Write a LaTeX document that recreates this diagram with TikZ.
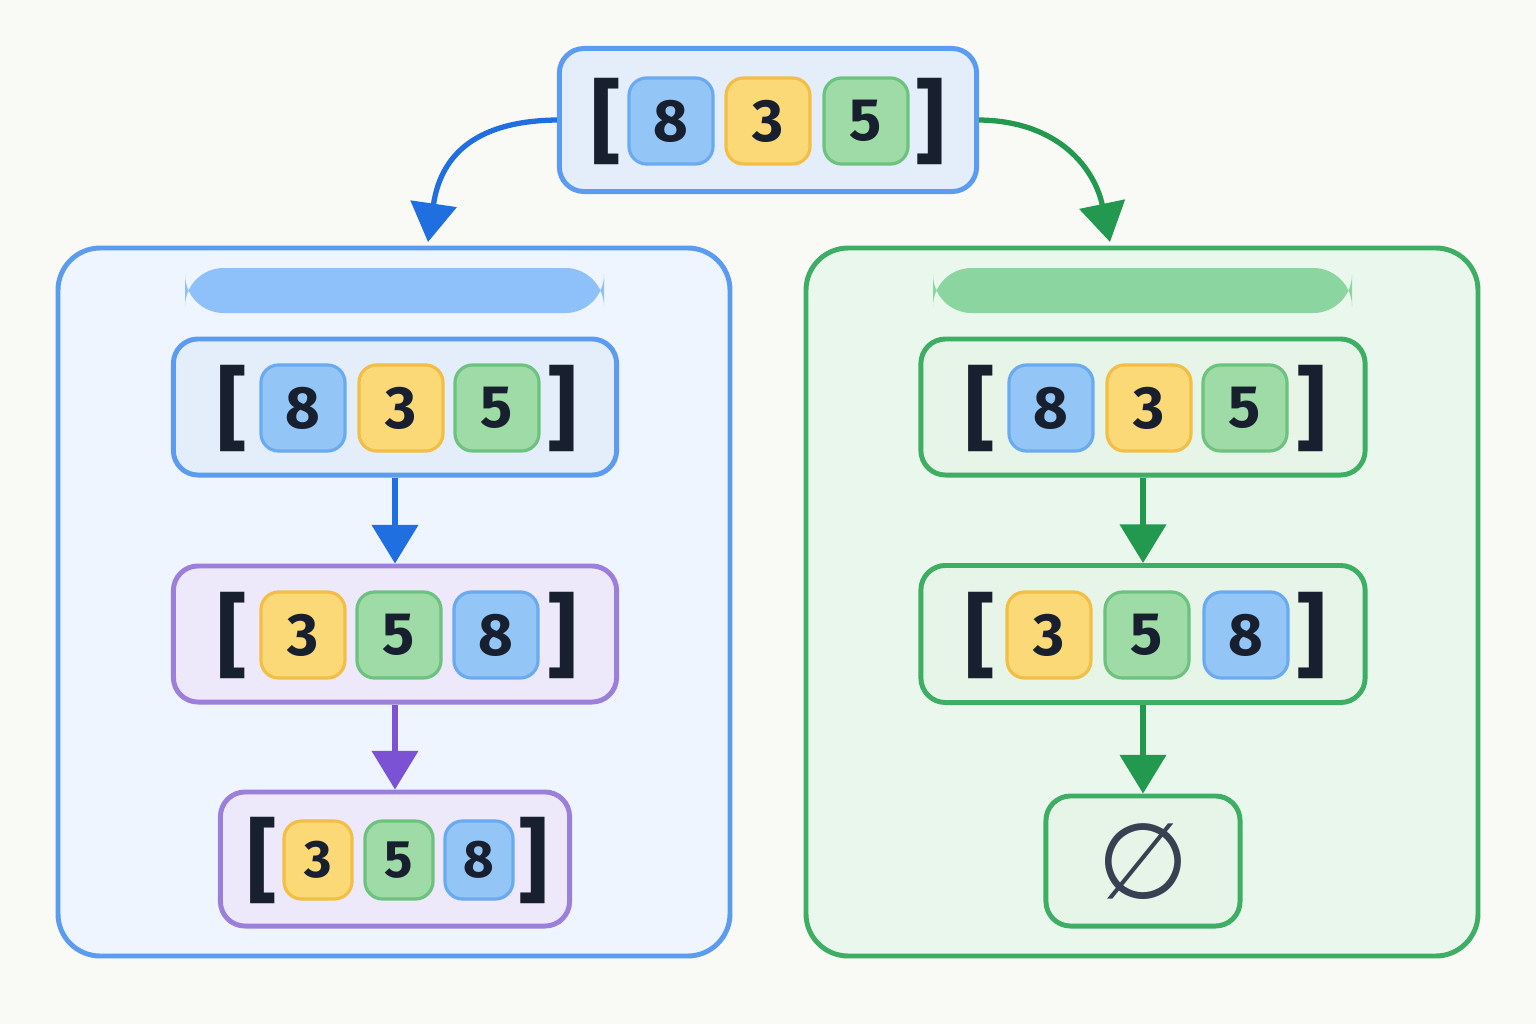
\documentclass[tikz,border=0pt]{standalone}
\usepackage{fontspec}
\setmainfont{Fira Sans}
\newfontfamily\symfont{DejaVu Sans}
\usetikzlibrary{arrows.meta}
\definecolor{bgcol}{HTML}{F9F9F6}
\definecolor{blueline}{HTML}{5B9CF0}
\definecolor{bluearrow}{HTML}{1F6FE0}
\definecolor{greenline}{HTML}{3DAE64}
\definecolor{greenarrow}{HTML}{22994F}
\definecolor{purpleline}{HTML}{9B7FDB}
\definecolor{purplearrow}{HTML}{7B52D3}
\definecolor{ink}{HTML}{18202F}
\definecolor{bluepanel}{HTML}{EEF5FE}
\definecolor{greenpanel}{HTML}{EAF7EC}
\definecolor{bluebar}{HTML}{8EC0FA}
\definecolor{greenbar}{HTML}{8BD5A0}
\definecolor{bluerow}{HTML}{E4EEFB}
\definecolor{greenrow}{HTML}{E6F5E8}
\definecolor{purplerow}{HTML}{EDE8FA}
\definecolor{tbfill}{HTML}{93C5F7}
\definecolor{tbline}{HTML}{6AAAF0}
\definecolor{tyfill}{HTML}{FCD977}
\definecolor{tyline}{HTML}{F2BE45}
\definecolor{tgfill}{HTML}{9EDBA6}
\definecolor{tgline}{HTML}{6CC27E}
\definecolor{emptyink}{HTML}{374151}
\tikzset{
  panel/.style={draw=#1, line width=1.4pt, rounded corners=12pt},
  rowbox/.style={draw=#1, line width=1.4pt, rounded corners=7pt},
  bar/.style={fill=#1, rounded corners=11pt},
  tile/.style={rounded corners=5pt, line width=0.9pt, minimum width=0.84cm,
    minimum height=0.86cm, font=\fontsize{17}{20}\selectfont\bfseries, text=ink},
  smalltile/.style={tile, minimum width=0.68cm, minimum height=0.78cm,
    font=\fontsize{15}{18}\selectfont\bfseries},
  tb/.style={fill=tbfill, draw=tbline},
  ty/.style={fill=tyfill, draw=tyline},
  tg/.style={fill=tgfill, draw=tgline},
  brk/.style={font=\fontsize{26}{30}\selectfont\bfseries, text=ink},
  arr/.style={draw=#1, line width=1.5pt, -{Triangle[length=11pt,width=13pt]}, color=#1}
}
\begin{document}
\begin{tikzpicture}[x=0.01cm, y=-0.01cm]
\fill[bgcol] (0,0) rectangle (1536,1024);
% Panneaux
\filldraw[panel=blueline, fill=bluepanel] (58,248) rectangle (730,956);
\filldraw[panel=greenline, fill=greenpanel] (806,248) rectangle (1478,956);
\fill[bar=bluebar] (185,268) rectangle (604,313);
\fill[bar=greenbar] (933,268) rectangle (1352,313);
% Tableau du haut
\node[rowbox=blueline, fill=bluerow, minimum width=4.17cm, minimum height=1.43cm] (top) at (768,120) {};
\foreach \n/\x/\s in {8/671/tb,3/768/ty,5/866/tg}
  \node[tile,\s] (top\n) at (\x,121) {\n};
\node[brk] (topl) at (606,121) {[};
\node[brk] (topr) at (930,121) {]};
% Deux branches
\coordinate (lend) at (428,242);
\coordinate (rend) at (1110,242);
\draw[arr=bluearrow] (top.west) .. controls (470,121) and (440,160) .. (lend);
\draw[arr=greenarrow] (top.east) .. controls (1060,121) and (1095,170) .. (rend);
% Gauche
\node[rowbox=blueline, fill=bluerow, minimum width=4.43cm, minimum height=1.36cm] (la) at (395,407) {};
\foreach \n/\x/\s in {8/303/tb,3/401/ty,5/497/tg}
  \node[tile,\s] (la\n) at (\x,408) {\n};
\node[brk] at (232,408) {[};
\node[brk] at (562,408) {]};
\node[rowbox=purpleline, fill=purplerow, minimum width=4.43cm, minimum height=1.36cm] (lb) at (395,634) {};
\foreach \n/\x/\s in {3/303/ty,5/399/tg,8/496/tb}
  \node[tile,\s] (lb\n) at (\x,635) {\n};
\node[brk] at (232,635) {[};
\node[brk] at (562,635) {]};
\node[rowbox=purpleline, fill=purplerow, minimum width=3.49cm, minimum height=1.34cm] (lc) at (395,859) {};
\foreach \n/\x/\s in {3/318/ty,5/399/tg,8/479/tb}
  \node[smalltile,\s] (lc\n) at (\x,860) {\n};
\node[brk] at (262,860) {[};
\node[brk] at (533,860) {]};
\draw[arr=bluearrow] (la.south) -- (lb.north);
\draw[arr=purplearrow] (lb.south) -- (lc.north);
% Droite
\node[rowbox=greenline, fill=greenrow, minimum width=4.44cm, minimum height=1.36cm] (ra) at (1143,407) {};
\foreach \n/\x/\s in {8/1051/tb,3/1149/ty,5/1245/tg}
  \node[tile,\s] (ra\n) at (\x,408) {\n};
\node[brk] at (980,408) {[};
\node[brk] at (1311,408) {]};
\node[rowbox=greenline, fill=greenrow, minimum width=4.44cm, minimum height=1.37cm] (rb) at (1143,634) {};
\foreach \n/\x/\s in {3/1049/ty,5/1147/tg,8/1246/tb}
  \node[tile,\s] (rb\n) at (\x,635) {\n};
\node[brk] at (980,635) {[};
\node[brk] at (1311,635) {]};
\node[rowbox=greenline, fill=greenrow, minimum width=1.94cm, minimum height=1.30cm] (rc) at (1143,861) {};
\node[font=\symfont\fontsize{30}{34}\selectfont, text=emptyink] (empty) at (1143,862) {∅};
\draw[arr=greenarrow] (ra.south) -- (rb.north);
\draw[arr=greenarrow] (rb.south) -- (rc.north);
\end{tikzpicture}
\end{document}
